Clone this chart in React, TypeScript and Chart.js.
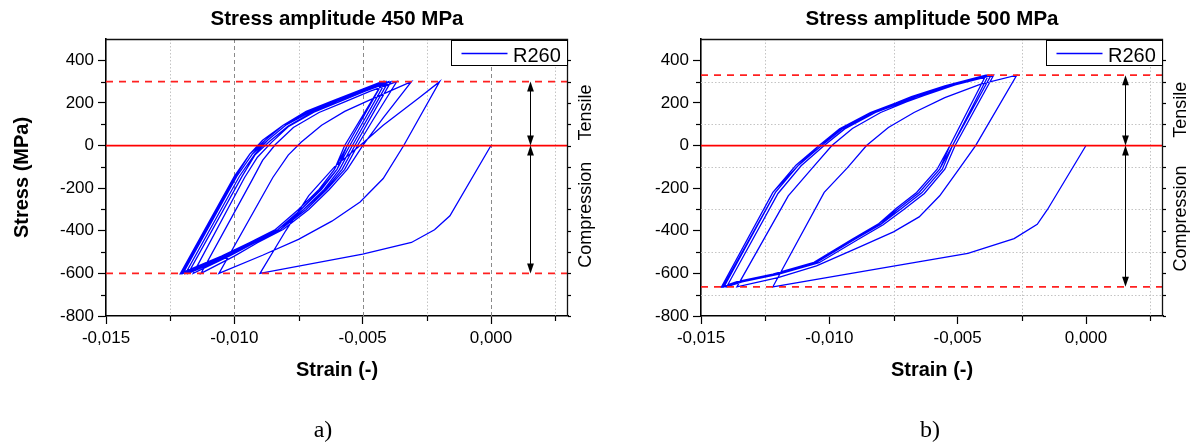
import React, { useEffect, useRef } from 'react';
import { Chart, registerables } from 'chart.js';

Chart.register(...registerables);

type P = [number, number];

// ---------- axis ticks ----------
const X_TICKS = [-0.015, -0.0125, -0.01, -0.0075, -0.005, -0.0025, 0, 0.0025];
const X_MAJOR = [-0.015, -0.01, -0.005, 0];
const Y_TICKS = [-800, -700, -600, -500, -400, -300, -200, -100, 0, 100, 200, 300, 400];
const Y_MAJOR = [-800, -600, -400, -200, 0, 200, 400];

// ---------- (a) stress amplitude 450 MPa ----------
const A_LEVELS = { upper: 300, zero: 0, lower: -600 };
const A_LOAD: P[] = [[0, 0], [-0.0016, -330], [-0.0022, -395], [-0.0031, -455], [-0.005, -510], [-0.009, -600]];
const A_UP1: P[] = [[-0.0080, -400], [-0.0071, -235], [-0.0061, -100], [-0.0051, 0], [-0.0042, 95], [-0.0035, 160], [-0.0028, 224], [-0.0020, 300]];
const A_DN2: P[] = [[-0.0034, 0], [-0.0042, -155], [-0.0051, -265], [-0.0062, -355], [-0.0075, -440], [-0.0089, -515], [-0.0106, -600]];
const A_UP2: P[] = [[-0.0085, -150], [-0.0079, -45], [-0.0074, 15], [-0.0066, 95], [-0.0057, 160], [-0.0048, 210], [-0.0039, 258], [-0.0031, 300]];
const A_DN3: P[] = [[-0.0042, 130], [-0.0050, 0], [-0.0056, -112], [-0.0063, -206], [-0.0071, -300], [-0.0081, -394], [-0.0091, -456], [-0.0100, -519], [-0.0113, -600]];
const A_UP3: P[] = [[-0.0093, -160], [-0.0089, -70], [-0.0084, 5], [-0.0077, 85], [-0.0067, 155], [-0.0057, 205], [-0.0047, 255], [-0.00367, 300]];
const A_DN4: P[] = [[-0.0046, 120], [-0.0052, 0], [-0.0057, -112], [-0.0064, -206], [-0.0072, -300], [-0.0082, -394], [-0.0092, -456], [-0.0102, -519], [-0.0116, -600]];
const A_UP4: P[] = [[-0.0096, -150], [-0.0091, -55], [-0.00855, 15], [-0.0079, 88], [-0.0069, 157], [-0.0059, 206], [-0.0049, 255], [-0.0039, 300]];
const A_DN5: P[] = [[-0.0053, 0], [-0.0058, -112], [-0.00645, -206], [-0.0073, -300], [-0.0082, -394], [-0.0092, -456], [-0.0102, -519], [-0.0118, -600]];
const A_UP5: P[] = [[-0.0097, -145], [-0.0092, -45], [-0.0086, 22], [-0.0079, 92], [-0.0069, 160], [-0.0060, 208], [-0.0050, 255], [-0.0040, 300]];
const A_DN6: P[] = [[-0.0054, 0], [-0.0059, -112], [-0.0065, -206], [-0.0073, -300], [-0.0083, -394], [-0.0093, -456], [-0.0103, -519], [-0.0119, -600]];
const A_UP6: P[] = [[-0.0098, -144], [-0.0092, -40], [-0.0087, 25], [-0.0080, 95], [-0.0070, 160], [-0.0060, 208], [-0.0051, 255], [-0.0041, 300]];
const A_DN7: P[] = [[-0.0055, 0], [-0.0060, -112], [-0.0066, -206], [-0.0074, -300], [-0.0083, -394], [-0.0093, -456], [-0.0103, -519], [-0.0120, -600]];
const A_UP7: P[] = [[-0.0099, -144], [-0.0093, -40], [-0.0087, 25], [-0.0080, 95], [-0.0070, 160], [-0.0061, 208], [-0.0051, 255], [-0.0042, 300]];
const A_DN8: P[] = [[-0.0056, 0], [-0.0060, -112], [-0.00665, -206], [-0.0074, -300], [-0.0083, -394], [-0.0093, -456], [-0.0104, -519], [-0.0120, -600]];
const A_UP8: P[] = [[-0.0099, -144], [-0.0093, -40], [-0.0088, 25], [-0.0081, 95], [-0.0071, 160], [-0.0061, 208], [-0.0051, 255], [-0.0042, 300]];
const A_DN9: P[] = [[-0.0056, 0], [-0.0061, -112], [-0.0067, -206], [-0.0075, -300], [-0.0084, -394], [-0.0094, -456], [-0.0104, -519], [-0.01205, -600]];
const A_UP9: P[] = [[-0.00995, -144], [-0.0094, -40], [-0.0088, 25], [-0.0081, 95], [-0.0071, 160], [-0.0062, 208], [-0.0052, 255], [-0.0042, 300]];
const A_DN10: P[] = [[-0.0057, 0], [-0.0061, -112], [-0.0067, -206], [-0.0075, -300], [-0.0084, -394], [-0.0094, -456], [-0.0105, -519], [-0.0121, -600]];
const A_UP10: P[] = [[-0.0100, -144], [-0.0094, -40], [-0.0089, 25], [-0.0081, 95], [-0.0072, 160], [-0.0062, 208], [-0.0052, 255], [-0.00425, 300]];
const A_PATH: P[] = [
  ...A_LOAD, ...A_UP1, ...A_DN2, ...A_UP2, ...A_DN3, ...A_UP3, ...A_DN4, ...A_UP4, ...A_DN5,
  ...A_UP5, ...A_DN6, ...A_UP6, ...A_DN7, ...A_UP7, ...A_DN8, ...A_UP8, ...A_DN9, ...A_UP9,
  ...A_DN10, ...A_UP10,
];

// ---------- (b) stress amplitude 500 MPa ----------
const B_LEVELS = { upper: 330, zero: 0, lower: -663 };
const B_LOAD: P[] = [[0, 0], [-0.0015, -300], [-0.0019, -370], [-0.0028, -437], [-0.0046, -506], [-0.0075, -566], [-0.0122, -663]];
const B_UP1: P[] = [[-0.0102, -220], [-0.0093, -105], [-0.00855, 0], [-0.0077, 85], [-0.0067, 155], [-0.0055, 225], [-0.0041, 288], [-0.0027, 330]];
const B_DN2: P[] = [[-0.0043, 0], [-0.0050, -119], [-0.0057, -236], [-0.0065, -335], [-0.0075, -405], [-0.0089, -480], [-0.0105, -565], [-0.0120, -620], [-0.0136, -663]];
const B_UP2: P[] = [[-0.0116, -236], [-0.0107, -111], [-0.0099, 0], [-0.0091, 80], [-0.0080, 155], [-0.0070, 205], [-0.0063, 235], [-0.0051, 285], [-0.0036, 330]];
const B_DN3: P[] = [[-0.0051, 0], [-0.0055, -111], [-0.0063, -225], [-0.0071, -300], [-0.0079, -372], [-0.0089, -442], [-0.0104, -550], [-0.0120, -605], [-0.0134, -640], [-0.0140, -663]];
const B_UP3: P[] = [[-0.0120, -225], [-0.0111, -95], [-0.0102, 0], [-0.0094, 78], [-0.0082, 155], [-0.0072, 200], [-0.0066, 230], [-0.0053, 280], [-0.0037, 330]];
const B_DN4: P[] = [[-0.0052, 0], [-0.0056, -111], [-0.0064, -222], [-0.0072, -297], [-0.0080, -370], [-0.0090, -440], [-0.0105, -548], [-0.0121, -603], [-0.0135, -640], [-0.0141, -663]];
const B_UP4: P[] = [[-0.0121, -220], [-0.0112, -92], [-0.0103, 0], [-0.0095, 78], [-0.0083, 155], [-0.0073, 200], [-0.0067, 230], [-0.0054, 280], [-0.0038, 330]];
const B_DN5: P[] = [[-0.0052, 0], [-0.0057, -111], [-0.0065, -220], [-0.0073, -295], [-0.0080, -369], [-0.0090, -439], [-0.0105, -548], [-0.0121, -603], [-0.0135, -639], [-0.01415, -663]];
const B_UP5: P[] = [[-0.0121, -220], [-0.0112, -92], [-0.0103, 0], [-0.0095, 78], [-0.0083, 155], [-0.0073, 200], [-0.0067, 230], [-0.0054, 280], [-0.0039, 330]];
const B_DN6: P[] = [[-0.0053, 0], [-0.0057, -111], [-0.0065, -220], [-0.0073, -295], [-0.0081, -369], [-0.0091, -439], [-0.0106, -548], [-0.0122, -603], [-0.0136, -639], [-0.0142, -663]];
const B_UP6: P[] = [[-0.0122, -220], [-0.0112, -92], [-0.0104, 0], [-0.0095, 78], [-0.0084, 155], [-0.0074, 200], [-0.0067, 230], [-0.0054, 280], [-0.0039, 330]];
const B_DN7: P[] = [[-0.0053, 0], [-0.0058, -111], [-0.0066, -220], [-0.0074, -295], [-0.0081, -369], [-0.0091, -439], [-0.0106, -548], [-0.0122, -603], [-0.0136, -639], [-0.0142, -663]];
const B_UP7: P[] = [[-0.0122, -220], [-0.0113, -92], [-0.0104, 0], [-0.0096, 78], [-0.0084, 155], [-0.0074, 200], [-0.0068, 230], [-0.0055, 280], [-0.0039, 330]];
const B_PATH: P[] = [
  ...B_LOAD, ...B_UP1, ...B_DN2, ...B_UP2, ...B_DN3, ...B_UP3, ...B_DN4, ...B_UP4, ...B_DN5,
  ...B_UP5, ...B_DN6, ...B_UP6, ...B_DN7, ...B_UP7,
];

const SANS = '"Liberation Sans", Arial, Helvetica, sans-serif';
const SERIF = '"Liberation Serif", "Times New Roman", serif';
const ARROW_X = 0.0015;

type PanelCfg = {
  title: string;
  path: P[];
  levels: { upper: number; zero: number; lower: number };
  yTitle: boolean;
  majorGrid: boolean;
  yGrid: boolean;
  tensileAt: number;
  compressionAt: number;
};

const PANEL_A: PanelCfg = {
  title: 'Stress amplitude 450 MPa', path: A_PATH, levels: A_LEVELS, yTitle: true,
  majorGrid: true, yGrid: false, tensileAt: 155, compressionAt: -325,
};
const PANEL_B: PanelCfg = {
  title: 'Stress amplitude 500 MPa', path: B_PATH, levels: B_LEVELS, yTitle: false,
  majorGrid: false, yGrid: true, tensileAt: 168, compressionAt: -342,
};

const fmtX = (v: number) => v.toFixed(3).replace('.', ',');

function arrowHead(ctx: CanvasRenderingContext2D, x: number, y: number, dir: number) {
  const L = 10, W = 3.4;
  ctx.beginPath();
  ctx.moveTo(x, y);
  ctx.lineTo(x - W, y - dir * L);
  ctx.lineTo(x + W, y - dir * L);
  ctx.closePath();
  ctx.fill();
}

function makeDecor(cfg: PanelCfg) {
  return {
    id: 'decor',
    beforeDatasetsDraw(chart: any) {
      const { ctx, chartArea: a, scales } = chart;
      const xs = scales.x, ys = scales.y;
      ctx.save();
      ctx.beginPath();
      ctx.rect(a.left, a.top, a.right - a.left, a.bottom - a.top);
      ctx.clip();
      ctx.lineWidth = 1;
      for (const v of X_TICKS) {
        if (v === X_TICKS[0]) continue;
        const major = X_MAJOR.includes(v);
        if (major && !cfg.majorGrid) continue;
        const px = Math.round(xs.getPixelForValue(v)) + 0.5;
        ctx.strokeStyle = major ? '#8a8a8a' : '#c4c4c4';
        ctx.setLineDash(major ? [4, 3] : [1.5, 2]);
        ctx.beginPath();
        ctx.moveTo(px, a.top);
        ctx.lineTo(px, a.bottom);
        ctx.stroke();
      }
      if (cfg.yGrid) {
        for (const v of Y_TICKS) {
          if (Y_MAJOR.includes(v)) continue;
          const py = Math.round(ys.getPixelForValue(v)) + 0.5;
          ctx.strokeStyle = '#c4c4c4';
          ctx.setLineDash([1.5, 2]);
          ctx.beginPath();
          ctx.moveTo(a.left, py);
          ctx.lineTo(a.right, py);
          ctx.stroke();
        }
      }
      ctx.restore();
    },
    afterDatasetsDraw(chart: any) {
      const { ctx, chartArea: a, scales } = chart;
      const xs = scales.x, ys = scales.y;
      ctx.save();
      // frame: top and right
      ctx.strokeStyle = '#111';
      ctx.lineWidth = 1.3;
      ctx.setLineDash([]);
      ctx.beginPath();
      ctx.moveTo(a.left, a.top + 0.5);
      ctx.lineTo(a.right - 0.5, a.top + 0.5);
      ctx.lineTo(a.right - 0.5, a.bottom);
      ctx.stroke();
      // minor ticks
      ctx.lineWidth = 1.2;
      ctx.strokeStyle = '#000';
      for (const v of X_TICKS) {
        if (X_MAJOR.includes(v)) continue;
        const px = Math.round(xs.getPixelForValue(v)) + 0.5;
        ctx.beginPath();
        ctx.moveTo(px, a.bottom);
        ctx.lineTo(px, a.bottom + 5);
        ctx.stroke();
      }
      for (const v of Y_TICKS) {
        const py = Math.round(ys.getPixelForValue(v)) + 0.5;
        if (!Y_MAJOR.includes(v)) {
          ctx.beginPath();
          ctx.moveTo(a.left - 5, py);
          ctx.lineTo(a.left, py);
          ctx.stroke();
        }
        ctx.beginPath();
        ctx.moveTo(a.right, py);
        ctx.lineTo(a.right + 3, py);
        ctx.stroke();
      }
      // arrows
      const ax = Math.round(xs.getPixelForValue(ARROW_X)) + 0.5;
      const yU = ys.getPixelForValue(cfg.levels.upper);
      const y0 = ys.getPixelForValue(cfg.levels.zero);
      const yL = ys.getPixelForValue(cfg.levels.lower);
      ctx.fillStyle = '#000';
      ctx.strokeStyle = '#000';
      ctx.lineWidth = 1;
      ctx.beginPath();
      ctx.moveTo(ax, yU + 6);
      ctx.lineTo(ax, y0 - 6);
      ctx.moveTo(ax, y0 + 6);
      ctx.lineTo(ax, yL - 6);
      ctx.stroke();
      arrowHead(ctx, ax, yU, -1);
      arrowHead(ctx, ax, y0, 1);
      arrowHead(ctx, ax, y0, -1);
      arrowHead(ctx, ax, yL, 1);
      // legend
      const bw = 116, bh = 26;
      const bx = Math.round(a.right - bw) - 0.5;
      const by = Math.round(a.top + 1) + 0.5;
      ctx.fillStyle = '#fff';
      ctx.fillRect(bx, by, bw, bh - 1);
      ctx.strokeStyle = '#000';
      ctx.lineWidth = 1;
      ctx.strokeRect(bx, by, bw, bh - 1);
      ctx.strokeStyle = '#0000ff';
      ctx.lineWidth = 1.3;
      ctx.beginPath();
      ctx.moveTo(bx + 10, by + 13);
      ctx.lineTo(bx + 56, by + 13);
      ctx.stroke();
      ctx.fillStyle = '#000';
      ctx.font = `20px ${SANS}`;
      ctx.textAlign = 'left';
      ctx.textBaseline = 'alphabetic';
      ctx.fillText('R260', bx + 61.5, by + 21);
      // title
      ctx.font = `bold 20.5px ${SANS}`;
      ctx.textAlign = 'center';
      ctx.fillText(cfg.title, (a.left + a.right) / 2, 25);
      // side labels
      ctx.font = `18px ${SANS}`;
      ctx.textBaseline = 'middle';
      const lx = a.right + 17.7;
      for (const [txt, v] of [['Tensile', cfg.tensileAt], ['Compression', cfg.compressionAt]] as [string, number][]) {
        ctx.save();
        ctx.translate(lx, ys.getPixelForValue(v));
        ctx.rotate(-Math.PI / 2);
        ctx.fillText(txt, 0, 0);
        ctx.restore();
      }
      ctx.restore();
    },
  };
}

function Panel({ cfg, left, width }: { cfg: PanelCfg; left: number; width: number }) {
  const ref = useRef<HTMLCanvasElement>(null);
  useEffect(() => {
    const lvl = cfg.levels;
    const hline = (y: number) => [{ x: -0.015, y }, { x: 0.003, y }];
    const chart = new Chart(ref.current as HTMLCanvasElement, {
      type: 'line',
      data: {
        datasets: [
          { label: 'upper', data: hline(lvl.upper), borderColor: '#ff2020', borderWidth: 1.8, borderDash: [7, 6], pointRadius: 0, order: 0 },
          { label: 'zero', data: hline(lvl.zero), borderColor: '#ff0000', borderWidth: 1.8, pointRadius: 0, order: 0 },
          { label: 'lower', data: hline(lvl.lower), borderColor: '#ff2020', borderWidth: 1.8, borderDash: [7, 6], pointRadius: 0, order: 0 },
          { label: 'R260', data: cfg.path.map(([x, y]) => ({ x, y })), borderColor: '#0000ff', borderWidth: 1.3, pointRadius: 0, tension: 0, order: 1 },
        ],
      },
      options: {
        responsive: false,
        animation: false,
        devicePixelRatio: 1,
        layout: { padding: { left: 0, right: width - 568, top: 39, bottom: 0 } },
        plugins: { legend: { display: false }, tooltip: { enabled: false }, title: { display: false } },
        scales: {
          x: {
            type: 'linear',
            min: -0.015,
            max: 0.003,
            afterBuildTicks: (s: any) => { s.ticks = X_TICKS.map((v) => ({ value: v })); },
            afterFit: (s: any) => { s.height = 127; },
            ticks: {
              autoSkip: false, maxRotation: 0, minRotation: 0, padding: 4, color: '#000',
              font: { family: SANS, size: 17 },
              callback: (v: any) => (X_MAJOR.includes(Number(v)) ? fmtX(Number(v)) : ''),
            },
            grid: {
              drawOnChartArea: false, drawTicks: true, tickLength: 8, tickWidth: 1.2,
              tickColor: (c: any) => (c.tick && X_MAJOR.includes(c.tick.value) ? '#000' : 'rgba(0,0,0,0)'),
            },
            border: { display: true, color: '#000', width: 1.6 },
            title: {
              display: true, text: 'Strain (-)', color: '#000',
              font: { family: SANS, size: 20, weight: 'bold' }, padding: { top: 0, bottom: 61 },
            },
          },
          y: {
            type: 'linear',
            min: -800,
            max: 500,
            afterBuildTicks: (s: any) => { s.ticks = Y_TICKS.map((v) => ({ value: v })); },
            afterFit: (s: any) => { s.width = 106; },
            ticks: {
              autoSkip: false, padding: 4, color: '#000',
              font: { family: SANS, size: 17 },
              callback: (v: any) => (Y_MAJOR.includes(Number(v)) ? String(v) : ''),
            },
            grid: {
              drawOnChartArea: false, drawTicks: true, tickLength: 8, tickWidth: 1.2,
              tickColor: (c: any) => (c.tick && Y_MAJOR.includes(c.tick.value) ? '#000' : 'rgba(0,0,0,0)'),
            },
            border: { display: true, color: '#000', width: 1.6 },
            title: {
              display: cfg.yTitle, text: 'Stress (MPa)', color: '#000',
              font: { family: SANS, size: 20, weight: 'bold' }, padding: { top: 10, bottom: 0 },
            },
          },
        },
      } as any,
      plugins: [makeDecor(cfg)],
    });
    return () => chart.destroy();
  }, []);
  return (
    <canvas
      ref={ref}
      width={width}
      height={443}
      style={{ position: 'absolute', left, top: 0, width, height: 443 }}
    />
  );
}

export default function App() {
  const cap = (text: string, cx: number) => (
    <div
      style={{
        position: 'absolute', left: cx, top: 417, transform: 'translateX(-50%)',
        fontFamily: SERIF, fontSize: 24, lineHeight: '24px', color: '#000', whiteSpace: 'nowrap',
      }}
    >
      {text}
    </div>
  );
  return (
    <div style={{ position: 'absolute', left: 0, top: 0, width: 1191, height: 443, background: '#fff', overflow: 'hidden' }}>
      <Panel cfg={PANEL_A} left={0} width={595} />
      <Panel cfg={PANEL_B} left={595} width={596} />
      {cap('a)', 323)}
      {cap('b)', 930)}
    </div>
  );
}
